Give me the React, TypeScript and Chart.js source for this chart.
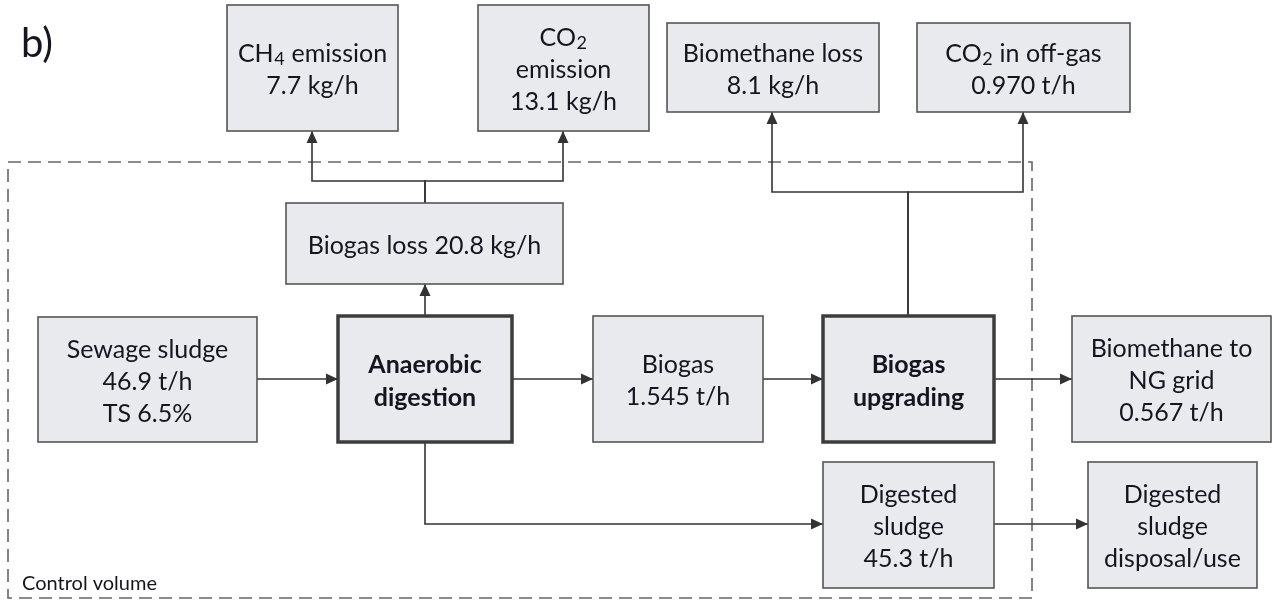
import React, { useEffect, useRef } from "react";
import { Chart, registerables } from "chart.js";

Chart.register(...registerables);

// ---------- DATA ----------
const NODE_IDS = ["ch4", "co2", "bmLoss", "co2Off", "bgLoss", "sludge", "ad", "biogas", "upg", "bmGrid", "dig", "disp"];
const NODE_LABELS: string[][] = [
  ["CH₄ emission", "7.7 kg/h"],
  ["CO₂", "emission", "13.1 kg/h"],
  ["Biomethane loss", "8.1 kg/h"],
  ["CO₂ in off-gas", "0.970 t/h"],
  ["Biogas loss 20.8 kg/h"],
  ["Sewage sludge", "46.9 t/h", "TS 6.5%"],
  ["Anaerobic", "digestion"],
  ["Biogas", "1.545 t/h"],
  ["Biogas", "upgrading"],
  ["Biomethane to", "NG grid", "0.567 t/h"],
  ["Digested", "sludge", "45.3 t/h"],
  ["Digested", "sludge", "disposal/use"],
];
const NODE_IS_PROCESS = [false, false, false, false, false, false, true, false, true, false, false, false];
const FLOW_FROM = ["sludge", "ad", "biogas", "upg", "ad", "dig", "ad", "bgLoss", "bgLoss", "upg", "upg"];
const FLOW_TO = ["ad", "biogas", "upg", "bmGrid", "dig", "disp", "bgLoss", "ch4", "co2", "bmLoss", "co2Off"];
const PANEL_LABEL = "b)";
const BOUNDARY_LABEL = "Control volume";

// ---------- LAYOUT (diagram units, x right, y down) ----------
const NODE_BOX: Record<string, [number, number, number, number]> = {
  ch4: [227, 5, 398, 131],
  co2: [478, 5, 649, 131],
  bmLoss: [667, 23, 879, 112],
  co2Off: [917, 23, 1130, 112],
  bgLoss: [286, 203, 563, 284],
  sludge: [38, 317, 257, 442],
  ad: [338, 316, 512, 442],
  biogas: [593, 316, 763, 442],
  upg: [823, 316, 994, 442],
  bmGrid: [1072, 316, 1271, 442],
  dig: [823, 462, 994, 588],
  disp: [1088, 462, 1257, 588],
};
// routed waypoints for each flow (same order as FLOW_FROM / FLOW_TO)
const FLOW_PATHS: [number, number][][] = [
  [[257, 379], [338, 379]],
  [[512, 379], [593, 379]],
  [[763, 379], [823, 379]],
  [[994, 379], [1072, 379]],
  [[425, 442], [425, 524], [823, 524]],
  [[994, 524], [1088, 524]],
  [[425, 316], [425, 284]],
  [[425, 203], [425, 181], [312, 181], [312, 131]],
  [[425, 203], [425, 181], [563, 181], [563, 131]],
  [[908, 316], [908, 192], [772, 192], [772, 112]],
  [[908, 316], [908, 192], [1023, 192], [1023, 112]],
];
const BOUNDARY: [number, number][] = [[8, 162], [1032, 162], [1032, 598], [8, 598], [8, 162]];

const FONT = "Lato, 'Open Sans', sans-serif";
const TEXT_COLOR = "#15151f";
const BOX_FILL = "#e9eaee";
const BOX_STROKE = "#555555";
const LINE_COLOR = "#333333";
const SUBS: Record<string, string> = { "₂": "2", "₄": "4" };

function drawRich(ctx: CanvasRenderingContext2D, text: string, cx: number, cy: number, size: number, bold: boolean) {
  const segs: { t: string; sub: boolean }[] = [];
  for (const ch of text) {
    const sub = ch in SUBS;
    const c = sub ? SUBS[ch] : ch;
    const last = segs[segs.length - 1];
    if (last && last.sub === sub) last.t += c;
    else segs.push({ t: c, sub });
  }
  const main = (bold ? "bold " : "") + size + "px " + FONT;
  const small = (bold ? "bold " : "") + Math.round(size * 0.72) + "px " + FONT;
  let total = 0;
  const widths = segs.map((s) => {
    ctx.font = s.sub ? small : main;
    const w = ctx.measureText(s.t).width + (s.sub ? 1 : 0);
    total += w;
    return w;
  });
  let x = cx - total / 2;
  ctx.textAlign = "left";
  ctx.textBaseline = "middle";
  segs.forEach((s, i) => {
    ctx.font = s.sub ? small : main;
    ctx.fillText(s.t, x + (s.sub ? 0.5 : 0), cy + (s.sub ? size * 0.22 : 0));
    x += widths[i];
  });
}

const diagramPlugin = {
  id: "diagram",
  afterDatasetsDraw(chart: any) {
    const ctx = chart.ctx as CanvasRenderingContext2D;
    const xs = chart.scales.x;
    const ys = chart.scales.y;
    const px = (v: number) => xs.getPixelForValue(v);
    const py = (v: number) => ys.getPixelForValue(v);
    ctx.save();
    // arrowheads
    FLOW_PATHS.forEach((path) => {
      const a = path[path.length - 2];
      const b = path[path.length - 1];
      const x1 = px(a[0]), y1 = py(a[1]), x2 = px(b[0]), y2 = py(b[1]);
      const ang = Math.atan2(y2 - y1, x2 - x1);
      const L = 12, W = 5.5;
      ctx.beginPath();
      ctx.moveTo(x2, y2);
      ctx.lineTo(x2 - L * Math.cos(ang) + W * Math.sin(ang), y2 - L * Math.sin(ang) - W * Math.cos(ang));
      ctx.lineTo(x2 - L * Math.cos(ang) - W * Math.sin(ang), y2 - L * Math.sin(ang) + W * Math.cos(ang));
      ctx.closePath();
      ctx.fillStyle = LINE_COLOR;
      ctx.fill();
    });
    // boxes
    NODE_IDS.forEach((id, i) => {
      const [bx0, by0, bx1, by1] = NODE_BOX[id];
      const x0 = px(bx0), y0 = py(by0), x1 = px(bx1), y1 = py(by1);
      const proc = NODE_IS_PROCESS[i];
      ctx.fillStyle = BOX_FILL;
      ctx.fillRect(x0, y0, x1 - x0, y1 - y0);
      ctx.strokeStyle = proc ? "#3c3c3c" : BOX_STROKE;
      ctx.lineWidth = proc ? 3.5 : 1.6;
      ctx.strokeRect(x0, y0, x1 - x0, y1 - y0);
      const lines = NODE_LABELS[i];
      const lh = proc ? 33 : 32;
      const cx = (x0 + x1) / 2;
      const cy = (y0 + y1) / 2 + 2;
      ctx.fillStyle = TEXT_COLOR;
      lines.forEach((t, k) => {
        drawRich(ctx, t, cx, cy + (k - (lines.length - 1) / 2) * lh, 25, proc);
      });
    });
    // panel label and boundary label
    ctx.textAlign = "left";
    ctx.textBaseline = "alphabetic";
    ctx.fillStyle = TEXT_COLOR;
    ctx.font = "40px " + FONT;
    ctx.fillText(PANEL_LABEL, px(21), py(57));
    ctx.font = "20px " + FONT;
    ctx.fillText(BOUNDARY_LABEL, px(22), py(590));
    ctx.restore();
  },
};

export default function App() {
  const ref = useRef<HTMLCanvasElement | null>(null);
  useEffect(() => {
    document.body.style.margin = "0";
    const datasets: any[] = FLOW_PATHS.map((path, i) => ({
      label: FLOW_FROM[i] + "→" + FLOW_TO[i],
      data: path.map(([x, y]) => ({ x, y })),
      showLine: true,
      borderColor: LINE_COLOR,
      borderWidth: 1.6,
      pointRadius: 0,
      fill: false,
      tension: 0,
    }));
    datasets.push({
      label: BOUNDARY_LABEL,
      data: BOUNDARY.map(([x, y]) => ({ x, y })),
      showLine: true,
      borderColor: "#666666",
      borderWidth: 1.6,
      borderDash: [13, 7],
      pointRadius: 0,
      fill: false,
      tension: 0,
    });
    const chart = new Chart(ref.current as HTMLCanvasElement, {
      type: "scatter",
      data: { datasets },
      options: {
        animation: false,
        responsive: true,
        maintainAspectRatio: false,
        events: [],
        layout: { padding: 0 },
        plugins: { legend: { display: false }, tooltip: { enabled: false } },
        scales: {
          x: { type: "linear", min: 0, max: 1274, display: false },
          y: { type: "linear", min: 0, max: 603, reverse: true, display: false },
        },
      },
      plugins: [diagramPlugin],
    });
    return () => chart.destroy();
  }, []);
  return (
    <div style={{ width: 1274, height: 603, position: "relative", background: "#ffffff" }}>
      <canvas ref={ref} />
    </div>
  );
}
